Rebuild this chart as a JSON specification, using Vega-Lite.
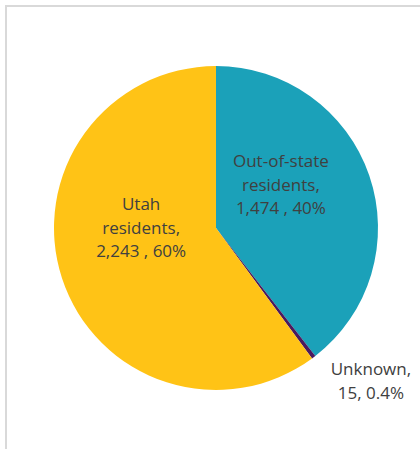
{
  "$schema": "https://vega.github.io/schema/vega-lite/v6.json",
  "width": 420,
  "height": 444,
  "padding": {"left": 6, "top": 6, "right": 0, "bottom": 0},
  "autosize": {"type": "none"},
  "background": "#ffffff",
  "view": {"stroke": "#d9d9d9", "strokeWidth": 2},
  "config": {
    "view": {"stroke": "#d9d9d9", "strokeWidth": 2},
    "style": {"view": {"stroke": "#d9d9d9", "strokeWidth": 2}}
  },
  "data": {
    "values": [
      {"category": "Out-of-state residents", "count": 1474, "order": 1, "label": "Out-of-state\nresidents,\n1,474 , 40%"},
      {"category": "Unknown", "count": 15, "order": 2, "label": "Unknown,\n15, 0.4%"},
      {"category": "Utah residents", "count": 2243, "order": 3, "label": "Utah\nresidents,\n2,243 , 60%"}
    ]
  },
  "encoding": {
    "theta": {"field": "count", "type": "quantitative", "stack": true},
    "order": {"field": "order", "type": "quantitative"}
  },
  "layer": [
    {
      "mark": {"type": "arc", "outerRadius": 162},
      "encoding": {
        "color": {
          "field": "category",
          "type": "nominal",
          "scale": {
            "domain": ["Out-of-state residents", "Unknown", "Utah residents"],
            "range": ["#1ba1b9", "#4a1a5e", "#ffc316"]
          },
          "legend": null
        }
      }
    },
    {
      "mark": {"type": "text", "radius": 89, "thetaOffset": -0.424, "font": "Open Sans", "fontSize": 17, "lineHeight": 23.5, "lineBreak": "\n", "color": "#404040", "align": "center", "baseline": "alphabetic"},
      "encoding": {
        "text": {"condition": {"test": "datum.category === 'Out-of-state residents'", "field": "label"}, "value": ""}
      }
    },
    {
      "mark": {"type": "text", "radius": 77, "thetaOffset": 0.553, "font": "Open Sans", "fontSize": 17, "lineHeight": 23.5, "lineBreak": "\n", "color": "#404040", "align": "center", "baseline": "alphabetic"},
      "encoding": {
        "text": {"condition": {"test": "datum.category === 'Utah residents'", "field": "label"}, "value": ""}
      }
    },
    {
      "mark": {"type": "text", "radius": 213.6, "thetaOffset": -0.164, "font": "Open Sans", "fontSize": 17, "lineHeight": 23.5, "lineBreak": "\n", "color": "#404040", "align": "center", "baseline": "alphabetic"},
      "encoding": {
        "text": {"condition": {"test": "datum.category === 'Unknown'", "field": "label"}, "value": ""}
      }
    }
  ]
}
